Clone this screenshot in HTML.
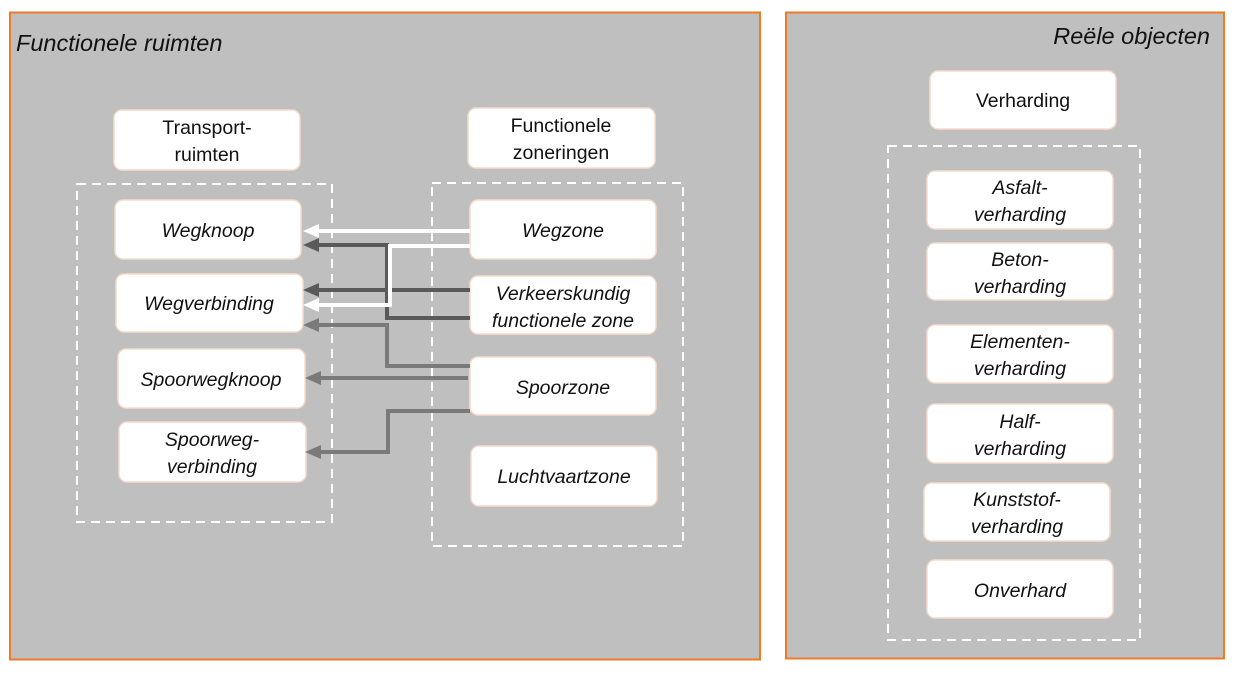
<!DOCTYPE html>
<html><head><meta charset="utf-8"><style>
html,body{margin:0;padding:0;background:#fff;}
svg text{font-family:"Liberation Sans",sans-serif;fill:#111;}
</style></head><body>
<svg width="1243" height="670" xmlns="http://www.w3.org/2000/svg">
<rect x="10" y="12.5" width="750" height="647" fill="#bfbfbf" stroke="#f07a28" stroke-width="2"/>
<rect x="786" y="12.5" width="438" height="646" fill="#bfbfbf" stroke="#f07a28" stroke-width="2"/>
<text x="16" y="51" font-size="23.5" font-style="italic">Functionele ruimten</text>
<text x="1210" y="44" font-size="23.5" font-style="italic" text-anchor="end">Reële objecten</text>

<g fill="none" stroke="#fff" stroke-width="2" stroke-dasharray="9,6">
<rect x="77" y="184" width="255" height="338"/>
<rect x="432" y="183" width="251" height="363"/>
<rect x="888" y="146" width="252" height="494"/>
</g>

<g fill="#fff" stroke="#f7dccb" stroke-width="1.5">
<rect x="114" y="110" width="186" height="60" rx="8"/>
<rect x="468" y="108" width="187" height="60" rx="8"/>
<rect x="115" y="200" width="186" height="59" rx="8"/>
<rect x="116" y="274" width="187" height="58" rx="8"/>
<rect x="118" y="349" width="187" height="59" rx="8"/>
<rect x="119" y="422" width="187" height="60" rx="8"/>
<rect x="470" y="200" width="186" height="59" rx="8"/>
<rect x="470" y="276" width="186" height="58" rx="8"/>
<rect x="470" y="357" width="186" height="58" rx="8"/>
<rect x="471" y="446" width="186" height="60" rx="8"/>
<rect x="930" y="71" width="186" height="58" rx="8"/>
<rect x="927" y="171" width="186" height="58" rx="8"/>
<rect x="927" y="243" width="186" height="57" rx="8"/>
<rect x="927" y="325" width="186" height="58" rx="8"/>
<rect x="927" y="404" width="186" height="59" rx="8"/>
<rect x="924" y="483" width="186" height="58" rx="8"/>
<rect x="927" y="560" width="186" height="58" rx="8"/>
</g>

<g fill="none" stroke-width="4">
<polyline points="470,318 387,318 387,245 318,245" stroke="#5a5a5a"/>
<polyline points="470,290 318,290" stroke="#5a5a5a"/>
<polyline points="470,366 387,366 387,325 318,325" stroke="#7a7a7a"/>
<polyline points="468,378 318,378" stroke="#7a7a7a"/>
<polyline points="470,411 388,411 388,452 318,452" stroke="#7a7a7a"/>
<polyline points="470,231 318,231" stroke="#fff"/>
<polyline points="470,246 390,246 390,305 318,305" stroke="#fff"/>
</g>
<g>
<path d="M303,231 L319,224 L319,238 z" fill="#fff"/>
<path d="M303,245 L319,238 L319,252 z" fill="#5a5a5a"/>
<path d="M303,290 L319,283 L319,297 z" fill="#5a5a5a"/>
<path d="M303,305 L319,298 L319,312 z" fill="#fff"/>
<path d="M303,325 L319,318 L319,332 z" fill="#7a7a7a"/>
<path d="M305,378 L321,371 L321,385 z" fill="#7a7a7a"/>
<path d="M305,452 L321,445 L321,459 z" fill="#7a7a7a"/>
</g>

<g font-size="19.5" text-anchor="middle">
<text x="207" y="134">Transport-</text>
<text x="207" y="161">ruimten</text>
<text x="561" y="132">Functionele</text>
<text x="561" y="159">zoneringen</text>
<text x="1023" y="107">Verharding</text>
</g>
<g font-size="19.5" text-anchor="middle" font-style="italic">
<text x="208" y="237">Wegknoop</text>
<text x="209" y="310">Wegverbinding</text>
<text x="211" y="386">Spoorwegknoop</text>
<text x="212" y="446">Spoorweg-</text>
<text x="212" y="473">verbinding</text>
<text x="563" y="237">Wegzone</text>
<text x="563" y="300">Verkeerskundig</text>
<text x="563" y="327">functionele zone</text>
<text x="563" y="394">Spoorzone</text>
<text x="564" y="483">Luchtvaartzone</text>
<text x="1020" y="194">Asfalt-</text>
<text x="1020" y="221">verharding</text>
<text x="1020" y="266">Beton-</text>
<text x="1020" y="293">verharding</text>
<text x="1020" y="348">Elementen-</text>
<text x="1020" y="375">verharding</text>
<text x="1020" y="428">Half-</text>
<text x="1020" y="455">verharding</text>
<text x="1017" y="506">Kunststof-</text>
<text x="1017" y="533">verharding</text>
<text x="1020" y="597">Onverhard</text>
</g>
</svg>
</body></html>
